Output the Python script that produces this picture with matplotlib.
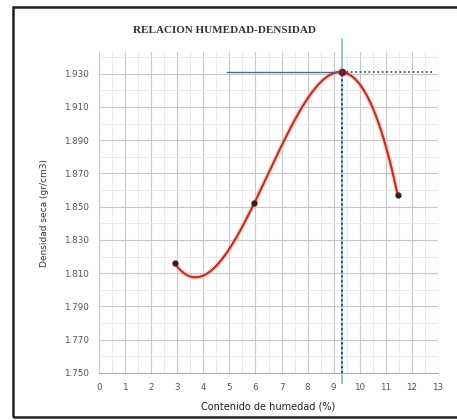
import numpy as np
import matplotlib
matplotlib.use("Agg")
import matplotlib.pyplot as plt
from matplotlib.patches import Rectangle

# data
humedad = [2.9, 5.95, 9.3, 11.45]
densidad = [1.816, 1.852, 1.931, 1.857]
hum_opt = 9.3
dens_max = 1.931
xticks = list(range(0, 14))
yticks = [1.750, 1.770, 1.790, 1.810, 1.830, 1.850, 1.870, 1.890, 1.910, 1.930]

fig = plt.figure(figsize=(4.57, 4.2), dpi=100)
ax = fig.add_axes([0.2166, 0.112, 0.742, 0.764])

# trendline (3rd degree) through the points
c = np.polyfit(humedad, densidad, 3)
xs = np.linspace(humedad[0], humedad[-1], 200)
ys = np.polyval(c, xs)
ax.plot(xs, ys, color="#f4b6b0", lw=3.5, alpha=0.6, zorder=3)
ax.plot(xs, ys, color="#b8321f", lw=1.5, zorder=4)
ax.plot(humedad, densidad, "o", color="#3a2020", ms=3.5, zorder=5)

# optimum lines
ax.plot([4.9, hum_opt], [dens_max, dens_max], color="#4a6a8c", lw=1.0, zorder=4)
ax.plot([hum_opt, 12.8], [dens_max, dens_max], color="#2a3f6a", lw=1.2, ls=":", zorder=4)
ax.axvline(hum_opt, ymin=-0.03, ymax=1.04, color="#8fb3d9", lw=1.2, clip_on=False, zorder=3)
ax.plot([hum_opt, hum_opt], [1.750, dens_max], color="#1e2f5a", lw=1.3, ls=":", zorder=4)
ax.plot(hum_opt, dens_max, "o", color="#7a1a2a", ms=4.5, zorder=6)

ax.set_xlim(0, 13)
ax.set_ylim(1.750, 1.943)
ax.set_xticks(xticks)
ax.set_yticks(yticks)
ax.set_yticklabels(["%.3f" % v for v in yticks])
ax.set_xticks(np.arange(0.5, 13, 1), minor=True)
ax.set_yticks(np.arange(1.760, 1.943, 0.02), minor=True)
ax.grid(which="major", color="#c8c8c8", lw=0.8)
ax.grid(which="minor", color="#e6e6e6", lw=0.6)
ax.tick_params(which="both", length=0, labelsize=6.3, colors="#555555", pad=7)
for s in ax.spines.values():
    s.set_visible(False)
ax.spines["bottom"].set_visible(True)
ax.spines["bottom"].set_color("#b0b0b0")

ax.set_xlabel("Contenido de humedad (%)", fontsize=7, color="#222222", labelpad=7)
ax.set_ylabel("Densidad seca (gr/cm3)", fontsize=6.5, color="#333333", labelpad=11)
fig.text(0.492, 0.928, "RELACION HUMEDAD-DENSIDAD", fontsize=8, family="Liberation Serif",
         weight="bold", color="#333333", ha="center", va="center")

# outer frame (right side runs off the image)
fig.patches.append(Rectangle((0.028, 0.006), 1.0, 0.977, transform=fig.transFigure,
                             fill=False, ec="#222222", lw=1.8))

fig.savefig("out.png", dpi=100)
